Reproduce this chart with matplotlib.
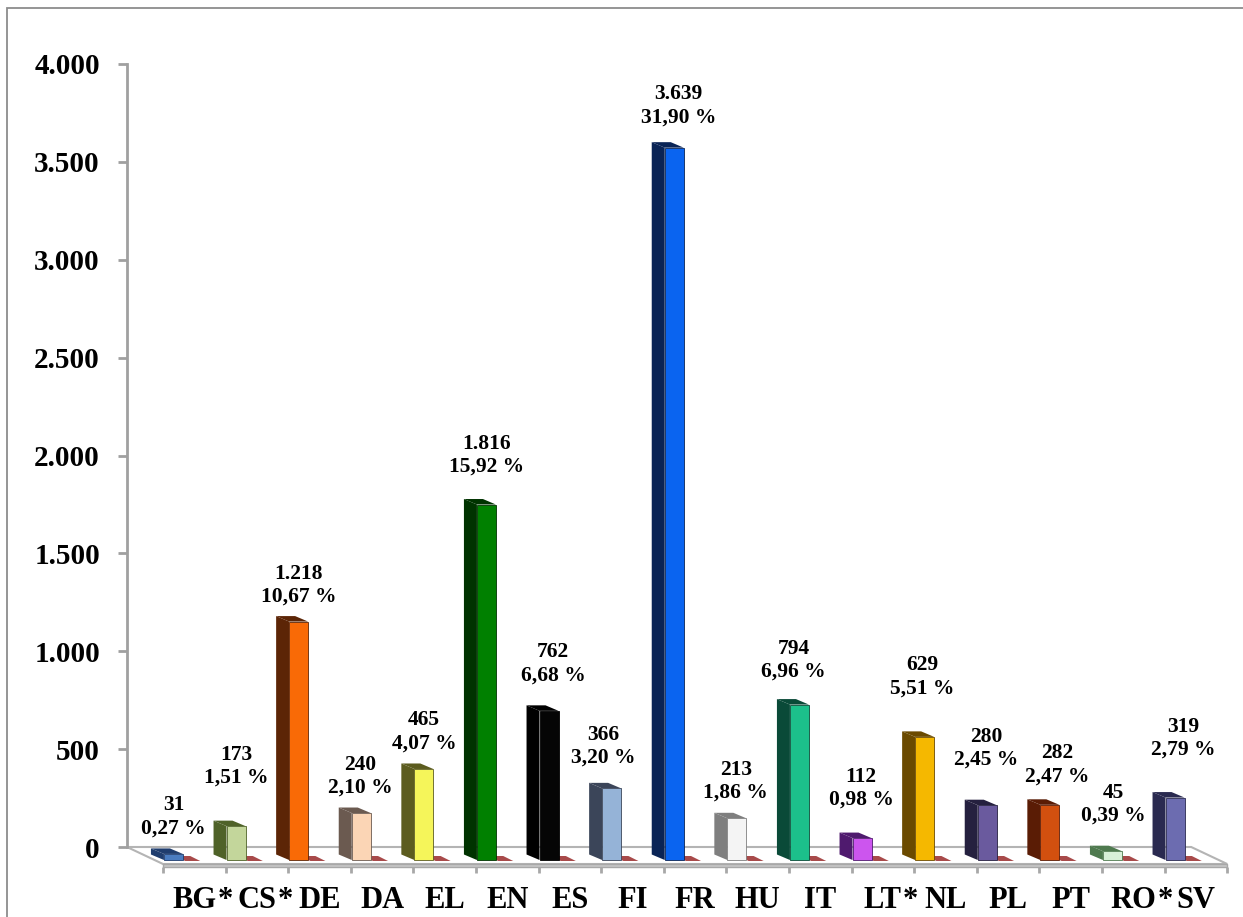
import numpy as np
import matplotlib
matplotlib.use('Agg')
import matplotlib.pyplot as plt
from matplotlib.patches import Polygon, Rectangle

plt.rcParams['font.family'] = ['Liberation Serif', 'DejaVu Serif']
plt.rcParams['font.weight'] = 'bold'

# data
langs = ["BG*", "CS*", "DE", "DA", "EL", "EN", "ES", "FI", "FR", "HU", "IT",
         "LT*", "NL", "PL", "PT", "RO*", "SV"]
counts = [31, 173, 1218, 240, 465, 1816, 762, 366, 3639, 213, 794, 112, 629,
          280, 282, 45, 319]
shares = [0.27, 1.51, 10.67, 2.10, 4.07, 15.92, 6.68, 3.20, 31.90, 1.86, 6.96,
          0.98, 5.51, 2.45, 2.47, 0.39, 2.79]
second = [0] * 17          # the flat red series lying on the floor
yticks = [0, 500, 1000, 1500, 2000, 2500, 3000, 3500, 4000]

# front face / side face colours
face_col = ['#4a7cc0', '#c3d69b', '#f96a06', '#fbd5b5', '#f5f55a', '#008000',
            '#050505', '#95b3d7', '#0a64f0', '#f4f4f4', '#1cc08b', '#cc55ee',
            '#f5b800', '#6a5a9e', '#d2500f', '#d8f0d8', '#6c6cb0']
side_col = ['#1f3d6e', '#4f6228', '#5c2506', '#6b5a50', '#5c5c1f', '#003300',
            '#000000', '#3b4559', '#0a2456', '#7f7f7f', '#0a4a38', '#4f1a6e',
            '#6b4a00', '#25203f', '#5a1c05', '#4f7a4f', '#2a2a50']
red_col = '#a84a4a'

# label nudges in pixels (right, up) measured from the bar top
label_nudge = [(0, 37), (0, 60), (0, 36), (-1, 37), (0, 37), (0, 49), (4, 47),
               (-8, 42), (4, 42), (-1, 37), (-6, 44), (-1, 50), (-2, 60),
               (-1, 57), (7, 40), (1, 47), (8, 59)]

# pixel geometry
W, H = 1243, 917
SLOT = 62.6            # px per category
YS = 783 / 4000        # px per unit
X0PX, Y0PX = 127, 847  # wall / zero line position
px = lambda p: p / SLOT
py = lambda p: p / YS

fig = plt.figure(figsize=(W / 100, H / 100), dpi=100)
ax = fig.add_axes([X0PX / W, 0, 1 - X0PX / W, 1])
ax.set_xlim(0, px(W - X0PX))
ax.set_ylim(-py(H - Y0PX), py(Y0PX))
for s in ['top', 'right', 'bottom']:
    ax.spines[s].set_visible(False)
ax.spines['left'].set_bounds(0, 4000)
ax.spines['left'].set_color('#a0a0a0')
ax.spines['left'].set_linewidth(2)
ax.set_xticks([])
ax.set_yticks(yticks)
ax.set_yticklabels([f"{v:,}".replace(',', '.') for v in yticks])
ax.tick_params(axis='y', length=6.5, width=2, color='#a0a0a0', pad=13,
               labelsize=21)
ax.patch.set_visible(False)

n = len(langs)
# floor
fdx, fdy = px(36), -py(17)
slab = py(3)
floor = Polygon([(0, 0), (n, 0), (n + fdx, fdy), (fdx, fdy)], closed=True,
                facecolor='white', edgecolor='#b4b4b4', lw=1.5, zorder=1)
ax.add_patch(floor)
front = Polygon([(fdx, fdy), (n + fdx, fdy), (n + fdx, fdy - slab), (fdx, fdy - slab)],
                closed=True, facecolor='#c8c8c8', edgecolor='#a8a8a8', lw=1, zorder=1)
ax.add_patch(front)
tx = np.arange(n + 1) + fdx
ax.vlines(tx, fdy - slab - py(6), fdy - slab, color='#a8a8a8', lw=2, zorder=1)

# bars
base = -py(13)
w = px(19)
dd, dh = px(13), py(5.5)
for i, v in enumerate(counts):
    x0 = i + 0.59
    top = base + v
    ax.add_patch(Polygon([(x0, base), (x0, top), (x0 - dd, top + dh), (x0 - dd, base + dh)],
                         closed=True, facecolor=side_col[i], edgecolor='none', zorder=3))
    ax.add_patch(Polygon([(x0, top), (x0 + w, top), (x0 + w - dd, top + dh), (x0 - dd, top + dh)],
                         closed=True, facecolor=side_col[i], edgecolor='none', zorder=3))
    ax.add_patch(Rectangle((x0, base), w, v, facecolor=face_col[i],
                           edgecolor=side_col[i], lw=0.6, zorder=3))
    # flat second series
    r0 = i + 0.93
    rb = base + second[i]
    ax.add_patch(Polygon([(r0, rb - py(1)), (r0 + px(15), rb - py(1)),
                          (r0 + px(15) - px(10), rb + py(4)), (r0 - px(10), rb + py(4))],
                         closed=True, facecolor=red_col, edgecolor='none', zorder=2))
    # value labels
    dx, up = label_nudge[i]
    txt = f"{v:,}".replace(',', '.') + "\n" + f"{shares[i]:.2f}".replace('.', ',') + " %"
    ax.annotate(txt, xy=(x0 + w / 2, top), xytext=(dx, up), textcoords='offset pixels',
                ha='center', va='center', fontsize=15.5, linespacing=1.2,
                multialignment='center', zorder=4)

# category labels
for i, name in enumerate(langs):
    t = ax.text(i + 0.5 + fdx, -py(61), name.rstrip('*'), ha='center',
                va='baseline', fontsize=22)
    if name.endswith('*'):
        ax.annotate('*', xy=(1, 0), xycoords=t, xytext=(1, 0),
                    textcoords='offset pixels', ha='left', va='bottom', fontsize=22)

# outer frame
fig.patches.append(Rectangle((7 / W, -0.05), 1.1, 1.05 - 8 / H, transform=fig.transFigure,
                             fill=False, edgecolor='#8c8c8c', lw=1.3))

fig.savefig('out.png', dpi=100)
